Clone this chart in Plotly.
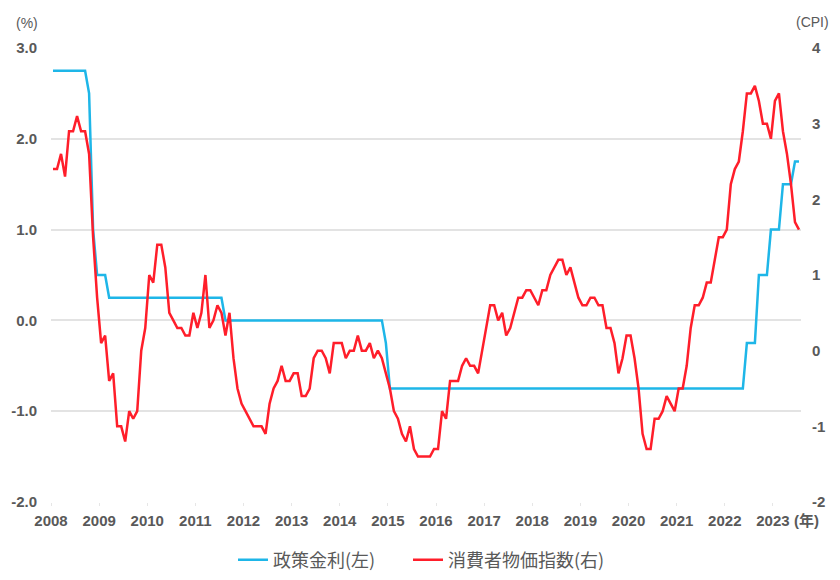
import plotly.graph_objects as go
import pandas as pd

# Monthly categories: Jan 2008 .. Jul 2023
months = pd.date_range("2008-01-01", "2023-07-01", freq="MS")

# Policy rate (%), left axis
policy_rate = (
    [2.75] * 9 + [2.5, 1.0, 0.5] +                 # 2008
    [0.5, 0.5] + [0.25] * 10 +                     # 2009
    [0.25] * 12 +                                  # 2010
    [0.25] * 7 + [0.0] * 5 +                       # 2011
    [0.0] * 12 +                                   # 2012
    [0.0] * 12 +                                   # 2013
    [0.0] * 11 + [-0.25] +                         # 2014
    [-0.75] * 84 +                                 # 2015-2021
    [-0.75] * 5 + [-0.25] * 3 + [0.5] * 3 + [1.0] +  # 2022
    [1.0, 1.0, 1.5, 1.5, 1.5, 1.75, 1.75]          # 2023
)

# Consumer price index, YoY (%), right axis
cpi_2008 = [2.4, 2.4, 2.6, 2.3, 2.9, 2.9, 3.1, 2.9, 2.9, 2.6, 1.5, 0.7]
cpi_2009 = [0.1, 0.2, -0.4, -0.3, -1.0, -1.0, -1.2, -0.8, -0.9, -0.8, 0.0, 0.3]
cpi_2010 = [1.0, 0.9, 1.4, 1.4, 1.1, 0.5, 0.4, 0.3, 0.3, 0.2, 0.2, 0.5]
cpi_2011 = [0.3, 0.5, 1.0, 0.3, 0.4, 0.6, 0.5, 0.2, 0.5, -0.1, -0.5, -0.7]
cpi_2012 = [-0.8, -0.9, -1.0, -1.0, -1.0, -1.1, -0.7, -0.5, -0.4, -0.2, -0.4, -0.4]
cpi_2013 = [-0.3, -0.3, -0.6, -0.6, -0.5, -0.1, 0.0, 0.0, -0.1, -0.3, 0.1, 0.1]
cpi_2014 = [0.1, -0.1, 0.0, 0.0, 0.2, 0.0, 0.0, 0.1, -0.1, 0.0, -0.1, -0.3]
cpi_2015 = [-0.5, -0.8, -0.9, -1.1, -1.2, -1.0, -1.3, -1.4, -1.4, -1.4, -1.4, -1.3]
cpi_2016 = [-1.3, -0.8, -0.9, -0.4, -0.4, -0.4, -0.2, -0.1, -0.2, -0.2, -0.3, 0.0]
cpi_2017 = [0.3, 0.6, 0.6, 0.4, 0.5, 0.2, 0.3, 0.5, 0.7, 0.7, 0.8, 0.8]
cpi_2018 = [0.7, 0.6, 0.8, 0.8, 1.0, 1.1, 1.2, 1.2, 1.0, 1.1, 0.9, 0.7]
cpi_2019 = [0.6, 0.6, 0.7, 0.7, 0.6, 0.6, 0.3, 0.3, 0.1, -0.3, -0.1, 0.2]
cpi_2020 = [0.2, -0.1, -0.5, -1.1, -1.3, -1.3, -0.9, -0.9, -0.8, -0.6, -0.7, -0.8]
cpi_2021 = [-0.5, -0.5, -0.2, 0.3, 0.6, 0.6, 0.7, 0.9, 0.9, 1.2, 1.5, 1.5]
cpi_2022 = [1.6, 2.2, 2.4, 2.5, 2.9, 3.4, 3.4, 3.5, 3.3, 3.0, 3.0, 2.8]
cpi_2023 = [3.3, 3.4, 2.9, 2.6, 2.2, 1.7, 1.6]
cpi = (cpi_2008 + cpi_2009 + cpi_2010 + cpi_2011 + cpi_2012 + cpi_2013 +
       cpi_2014 + cpi_2015 + cpi_2016 + cpi_2017 + cpi_2018 + cpi_2019 +
       cpi_2020 + cpi_2021 + cpi_2022 + cpi_2023)

year_ticks = list(range(2008, 2024))
year_labels = [str(y) for y in year_ticks]
left_ticks = [-2, -1, 0, 1, 2, 3]
left_labels = ["-2.0", "-1.0", "0.0", "1.0", "2.0", "3.0"]
right_ticks = [-2, -1, 0, 1, 2, 3, 4]
right_labels = ["-2", "-1", "0", "1", "2", "3", "4"]

series_names = ["政策金利(左)", "消費者物価指数(右)"]

# position each month at its centre on a continuous year scale
xpos = [m.year + (m.month - 0.5) / 12 for m in months]

GRAY = "#595959"
TICK_FONT = dict(family="Liberation Sans, Arial, sans-serif", size=15, color=GRAY, weight="bold")
LEG_FONT = dict(family="Noto Sans CJK JP, sans-serif", size=18, color=GRAY)

W, H = 840, 580
L, R, T, B = 51, 39, 48, 78
PW, PH = W - L - R, H - T - B


def px(xw):
    return (xw - L) / PW


def py(yw):
    return 1 - (yw - T) / PH


fig = go.Figure()
fig.add_trace(go.Scatter(
    x=xpos, y=policy_rate, name=series_names[0], mode="lines",
    line=dict(color="#1EB6E8", width=2.5), yaxis="y", legend="legend"))
fig.add_trace(go.Scatter(
    x=xpos, y=cpi, name=series_names[1], mode="lines",
    line=dict(color="#FF1E2A", width=2.5), yaxis="y2", legend="legend2"))

fig.update_layout(
    width=W, height=H,
    margin=dict(l=L, r=R, t=T, b=B, autoexpand=False),
    paper_bgcolor="white", plot_bgcolor="white",
    showlegend=True,
    legend=dict(orientation="h", x=px(233), xanchor="left", y=py(560), yanchor="middle",
                font=LEG_FONT, bgcolor="rgba(0,0,0,0)"),
    legend2=dict(orientation="h", x=px(408), xanchor="left", y=py(560), yanchor="middle",
                 font=LEG_FONT, bgcolor="rgba(0,0,0,0)"),
    xaxis=dict(range=[2008, 2008 + len(months) / 12], tickvals=year_ticks,
               ticktext=year_labels, tickfont=TICK_FONT, showgrid=False,
               zeroline=False, showline=False, ticks="outside", ticklen=3,
               tickcolor="#e6e6e6", tickwidth=1, ticklabelstandoff=2, automargin=False),
    yaxis=dict(range=[-2, 3], tickvals=left_ticks, ticktext=left_labels,
               tickfont=TICK_FONT, showgrid=True, gridcolor="#e3e3e3", gridwidth=1.5,
               zeroline=False, showline=False, ticks="", ticklabelstandoff=13,
               automargin=False),
    yaxis2=dict(range=[-2, 4], tickvals=right_ticks, ticktext=right_labels,
                tickfont=TICK_FONT, overlaying="y", side="right", showgrid=False,
                zeroline=False, showline=False, ticks="", ticklabelstandoff=10,
                automargin=False),
    annotations=[
        dict(text="(%)", xref="paper", yref="paper", x=px(14), y=py(23),
             xanchor="left", yanchor="middle", showarrow=False,
             font=dict(family="Liberation Sans, Arial, sans-serif", size=14, color=GRAY)),
        dict(text="(CPI)", xref="paper", yref="paper", x=px(794), y=py(22),
             xanchor="left", yanchor="middle", showarrow=False,
             font=dict(family="Liberation Sans, Arial, sans-serif", size=14, color=GRAY)),
        dict(text="<b>(年)</b>", xref="paper", yref="paper", x=px(792), y=py(520),
             xanchor="left", yanchor="middle", showarrow=False,
             font=dict(family="Liberation Sans, Noto Sans CJK JP, sans-serif", size=15, color=GRAY)),
    ],
)

# remove the browser's default 8px body margin so the figure fills the window exactly
fig.write_html("out.html",
               config={"displayModeBar": False},
               post_script="document.body.style.margin='0';document.body.style.overflow='hidden';")
